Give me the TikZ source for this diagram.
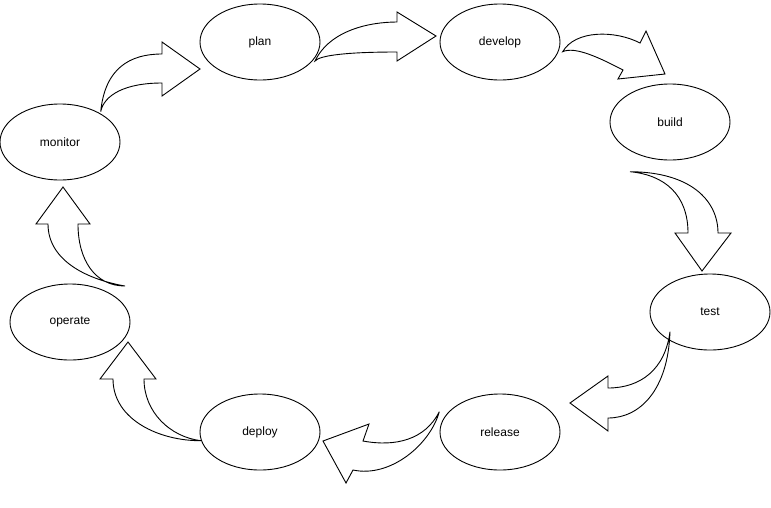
\documentclass[tikz,border=0pt]{standalone}
\usepackage{fontspec}
\setmainfont{Liberation Sans}
\usetikzlibrary{shapes.geometric}
\begin{document}
\begin{tikzpicture}[x = 1pt, y = -1pt, line width = .9pt,
	stage/.style = {draw, ellipse, minimum width = 120pt, minimum height = 76pt, inner sep = 0pt, font = \fontsize{12}{14}\selectfont},
	blockarrow/.style = {draw, fill = white, line join = miter}]
	\useasboundingbox (0,0) rectangle (771,507);
	% stages
	\node[stage] (plan) at (260,42) {plan};
	\node[stage] (develop) at (500,42) {develop};
	\node[stage] (build) at (670,122) {build};
	\node[stage] (test) at (710,312) {test};
	\node[stage] (release) at (500,432) {release};
	\node[stage] (deploy) at (260,432) {deploy};
	\node[stage] (operate) at (70,322) {operate};
	\node[stage] (monitor) at (60,142) {monitor};
	% curved block arrows
	\draw[blockarrow] (100.7,111.7) .. controls (105,68) and (130,54) .. (162,54) -- (162,42) -- (200,69) -- (162,96) -- (162,83) .. controls (125,83) and (104,95) .. (100.7,111.7) -- cycle; %monitor-plan
	\draw[blockarrow] (315,61) .. controls (330,30) and (370,22) .. (397,22) -- (397,12) -- (436,36) -- (397,61) -- (397,52) .. controls (350,52) and (320,55) .. (315,61) -- cycle; %plan-develop
	\draw[blockarrow] (562.7,51.7) .. controls (575,30) and (615,30) .. (640,43) -- (646,31) -- (665,74) -- (618,79) -- (623,70) .. controls (600,58) and (575,46) .. (562.7,51.7) -- cycle; %develop-build
	\draw[blockarrow] (630,171.7) .. controls (690,172) and (718,200) .. (718,233) -- (731,233) -- (702,271) -- (675,233) -- (688,233) .. controls (688,195) and (665,175) .. (630,171.7) -- cycle; %build-test
	\draw[blockarrow] (670,331.7) .. controls (668,390) and (640,418) .. (608,418) -- (608,431) -- (570,403) -- (608,376) -- (608,388) .. controls (640,388) and (665,370) .. (670,331.7) -- cycle; %test-release
	\draw[blockarrow] (439.3,411.7) .. controls (425,440) and (395,447) .. (363,441) -- (369,424) -- (323,441) -- (346,483) -- (353,470) .. controls (390,478) and (430,445) .. (439.3,411.7) -- cycle; %release-deploy
	\draw[blockarrow] (201,440.7) .. controls (170,437) and (144,412) .. (144,379) -- (156,379) -- (128,342) -- (100,379) -- (113,379) .. controls (113,420) and (160,441) .. (201,440.7) -- cycle; %deploy-operate
	\draw[blockarrow] (125,286) .. controls (95,286) and (78,260) .. (78,224) -- (90,224) -- (63,187) -- (36,224) -- (48,224) .. controls (48,262) and (90,280) .. (125,286) -- cycle; %operate-monitor
\end{tikzpicture}
\end{document}
